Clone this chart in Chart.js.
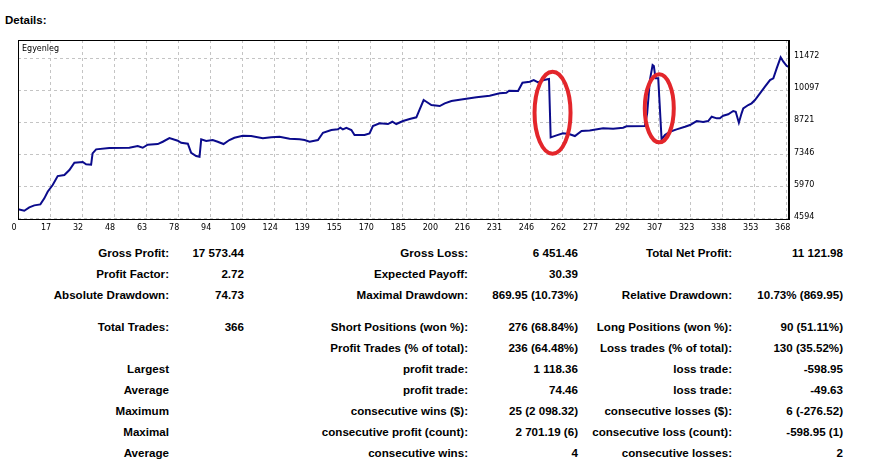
<!DOCTYPE html>
<html>
<head>
<meta charset="utf-8">
<script src="https://cdn.jsdelivr.net/npm/chart.js@4.4.1/dist/chart.umd.min.js"></script>
<style>
  body { margin: 0; background: #fff; width: 873px; height: 465px; overflow: hidden; position: relative; }
  #title { position: absolute; left: 5px; top: 14px; font: bold 11.5px "Liberation Sans", Arial, sans-serif; }
  #wrap { position: absolute; left: 0; top: 30px; width: 830px; height: 205px; }
  .cell { position: absolute; font: bold 11.6px "Liberation Sans", Arial, sans-serif; line-height: 14px; white-space: nowrap; text-align: right; color: #000; }
</style>
</head>
<body>
<div id="title">Details:</div>
<div id="wrap"><canvas id="balanceChart"></canvas></div>
<script>
// balance curve (trade number, balance)
const trades = [0, 3, 5.4, 7.8, 10.7, 12.6, 14.2, 16.6, 19, 22.2, 24.6, 27, 31, 32.6, 35, 35.7, 37.4, 43.7,
  53.3, 57.3, 59.7, 62.1, 66.9, 69.3, 72.5, 76.5, 78.1, 81.3, 82.9, 85.3, 86.9, 87.7, 90.1, 93.2, 95.6,
  98.4, 101.2, 103.6, 107.6, 111.6, 117.2, 121.2, 125.2, 130, 134.8, 137.2, 139.6, 143.6, 146, 150,
  153.1, 154.3, 155.5, 157.2, 159.6, 161.1, 165.9, 168.3, 169.9, 173.1, 177.1, 179.2, 181.1, 184.3,
  187.5, 190.7, 192.3, 194.2, 195.5, 197.9, 201.9, 204.3, 207.5, 213, 219.5, 225.8, 230.6, 233.8,
  235.1, 239.4, 241.5, 245, 246.9, 249, 251.7, 254.2, 255, 257.8, 260.9, 263.8, 266.6, 269.8, 273.7,
  280.1, 284.9, 289.7, 291.3, 300.1, 301.2, 302.5, 303.8, 304.4, 305.2, 306.5, 308.1, 309.7, 312.1,
  315.3, 319.3, 321.7, 324.9, 328, 330.4, 332.1, 334.5, 336, 337.6, 340, 342.4, 343.6, 345.1, 346.4,
  347.2, 349.6, 351.2, 352.8, 355.2, 357.6, 360, 361.6, 363.2, 365.1, 366.4, 368, 368.9];
const balance = [5000, 4929, 5075, 5161, 5204, 5462, 5745, 6033, 6419, 6462, 6677, 6990, 7020, 6921, 6904, 7394, 7565, 7621,
  7634, 7707, 7634, 7763, 7793, 7892, 8050, 7935, 7849, 7806, 7419, 7278, 7248, 7995, 7922, 7965, 7892,
  7793, 7965, 8063, 8149, 8136, 8038, 8081, 8106, 8020, 7995, 7965, 7892, 7965, 8278, 8394,
  8424, 8493, 8424, 8493, 8394, 8179, 8179, 8252, 8566, 8682, 8652, 8750, 8652, 8780,
  8866, 8939, 9283, 9682, 9609, 9467, 9424, 9540, 9639, 9712, 9798, 9866, 9969, 9995,
  10081, 10068, 10425, 10467, 10540, 10442, 10540, 10583, 8081, 8166, 8252, 8222, 8136, 8351, 8372,
  8467, 8450, 8493, 8553, 8566, 9111, 10540, 11184, 11141, 10613, 10613, 7995, 8179, 8321,
  8424, 8536, 8609, 8780, 8737, 8780, 8965, 8896, 8896, 9008, 9068, 9210, 9180, 8707, 9111,
  9325, 9467, 9540, 9682, 9969, 10253, 10540, 10613, 11043, 11515, 11326, 11141, 11111];

const xTickLabels = ['0', '17', '32', '48', '63', '78', '94', '109', '124', '139', '155', '170', '185',
  '200', '216', '231', '246', '262', '277', '292', '307', '323', '338', '353', '368'];
const yTickLabels = [4594, 5970, 7346, 8721, 10097, 11472];

// red hand-drawn marks round the two drops
const marks = [
  { t: 255.9, v: 9137, rx: 18, ry: 41 },
  { t: 307.0, v: 9325, rx: 14.5, ry: 34 }
];

// report table: rows of [label, value] pairs for the three column groups
const rowTops = [253, 274, 295, 327, 348, 369, 390, 411, 432, 453];
const colRights = [169, 244, 468, 578, 732, 843];
const reportRows = [
  ['Gross Profit:', '17 573.44', 'Gross Loss:', '6 451.46', 'Total Net Profit:', '11 121.98'],
  ['Profit Factor:', '2.72', 'Expected Payoff:', '30.39', '', ''],
  ['Absolute Drawdown:', '74.73', 'Maximal Drawdown:', '869.95 (10.73%)', 'Relative Drawdown:', '10.73% (869.95)'],
  ['Total Trades:', '366', 'Short Positions (won %):', '276 (68.84%)', 'Long Positions (won %):', '90 (51.11%)'],
  ['', '', 'Profit Trades (% of total):', '236 (64.48%)', 'Loss trades (% of total):', '130 (35.52%)'],
  ['Largest', '', 'profit trade:', '1 118.36', 'loss trade:', '-598.95'],
  ['Average', '', 'profit trade:', '74.46', 'loss trade:', '-49.63'],
  ['Maximum', '', 'consecutive wins ($):', '25 (2 098.32)', 'consecutive losses ($):', '6 (-276.52)'],
  ['Maximal', '', 'consecutive profit (count):', '2 701.19 (6)', 'consecutive loss (count):', '-598.95 (1)'],
  ['Average', '', 'consecutive wins:', '4', 'consecutive losses:', '2']
];

reportRows.forEach((row, r) => {
  row.forEach((text, c) => {
    if (!text) return;
    const d = document.createElement('div');
    d.className = 'cell';
    d.textContent = text;
    d.style.top = (rowTops[r] - 7) + 'px';
    d.style.right = (873 - colRights[c]) + 'px';
    document.body.appendChild(d);
  });
});

const frameAndMarks = {
  id: 'frameAndMarks',
  afterDatasetsDraw(chart) {
    const { ctx, chartArea: a, scales } = chart;
    ctx.save();
    ctx.strokeStyle = '#000';
    ctx.lineWidth = 1;
    ctx.strokeRect(a.left + 0.5, a.top + 0.5, a.right - a.left - 1, a.bottom - a.top);
    ctx.fillStyle = '#000';
    ctx.font = '8px "DejaVu Sans"';
    ctx.textBaseline = 'middle';
    ctx.fillText(chart.data.datasets[0].label, a.left + 4, a.top + 9);
    ctx.strokeStyle = '#e3262b';
    ctx.lineWidth = 4;
    marks.forEach(m => {
      ctx.beginPath();
      ctx.ellipse(scales.x.getPixelForValue(m.t), scales.y.getPixelForValue(m.v), m.rx, m.ry, 0, 0, Math.PI * 2);
      ctx.stroke();
    });
    ctx.restore();
  }
};

const tickFont = { family: 'DejaVu Sans', size: 8 };

new Chart(document.getElementById('balanceChart'), {
  type: 'line',
  data: {
    datasets: [{
      label: 'Egyenleg',
      data: trades.map((t, i) => ({ x: t, y: balance[i] })),
      borderColor: '#0b0b8c',
      borderWidth: 2,
      pointRadius: 0,
      tension: 0
    }]
  },
  options: {
    responsive: true,
    maintainAspectRatio: false,
    animation: false,
    layout: { padding: { left: 18, top: 10, right: 0, bottom: 0 } },
    plugins: { legend: { display: false }, tooltip: { enabled: false } },
    scales: {
      x: {
        type: 'linear',
        min: 0,
        max: 369.1,
        afterBuildTicks: axis => {
          const last = Number(xTickLabels[xTickLabels.length - 1]);
          axis.ticks = xTickLabels.map((l, i) => ({ value: i * last / (xTickLabels.length - 1) }));
        },
        afterFit: axis => { axis.height = 16; },
        ticks: {
          callback: (v, i) => xTickLabels[i],
          autoSkip: false,
          maxRotation: 0,
          font: tickFont,
          color: '#000',
          padding: 4,
          labelOffset: -4
        },
        grid: { color: '#c4c4c4', drawTicks: false },
        border: { display: true, color: '#000', dash: [3, 3] }
      },
      y: {
        position: 'right',
        min: 4576,
        max: 12258,
        afterBuildTicks: axis => { axis.ticks = yTickLabels.map(v => ({ value: v })); },
        afterFit: axis => { axis.width = 41; },
        ticks: {
          callback: v => String(v),
          font: tickFont,
          color: '#000',
          padding: 5,
          labelOffset: -2
        },
        grid: { color: '#c4c4c4', drawTicks: false },
        border: { display: true, color: '#000', dash: [3, 3] }
      }
    }
  },
  plugins: [frameAndMarks]
});
</script>
</body>
</html>
